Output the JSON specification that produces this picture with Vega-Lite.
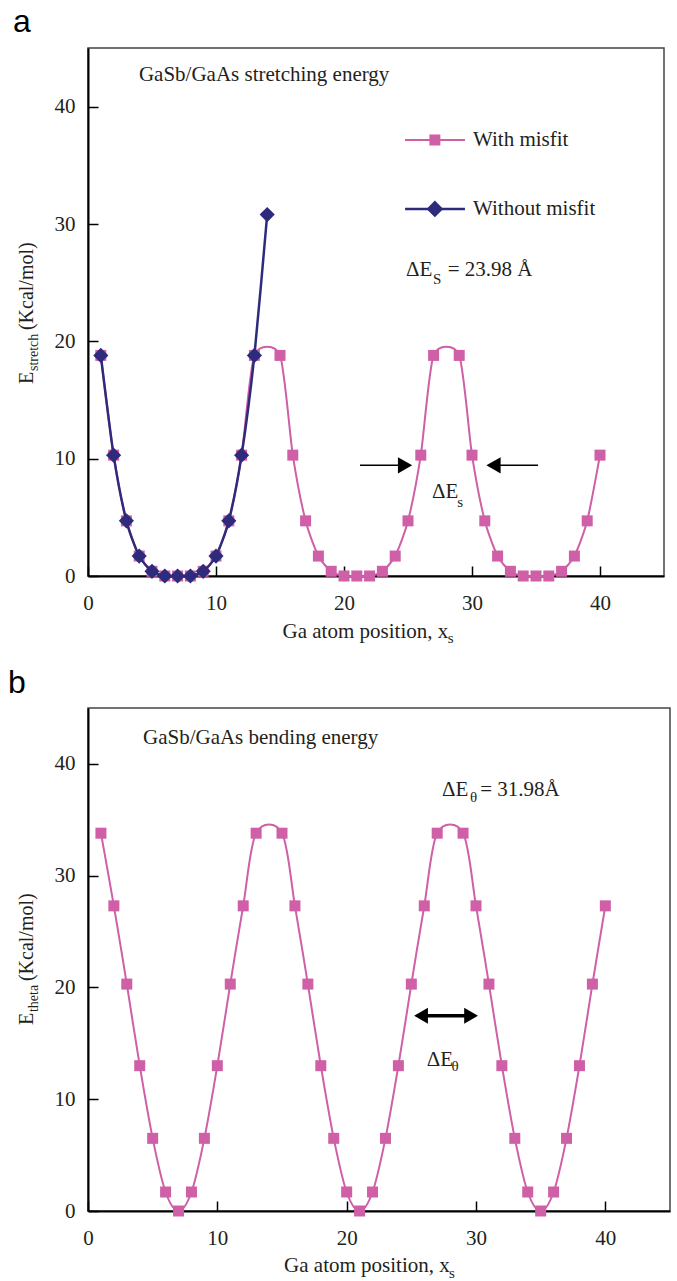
{
  "$schema": "https://vega.github.io/schema/vega-lite/v6.json",
  "background": "white",
  "padding": {"left": 7, "top": 5, "right": 5, "bottom": 5},
  "spacing": 19,
  "datasets": {
    "a_with": [
      {"x": 1, "y": 18.8}, {"x": 2, "y": 10.3}, {"x": 3, "y": 4.7}, {"x": 4, "y": 1.7}, {"x": 5, "y": 0.4},
      {"x": 6, "y": 0}, {"x": 7, "y": 0}, {"x": 8, "y": 0}, {"x": 9, "y": 0.4}, {"x": 10, "y": 1.7},
      {"x": 11, "y": 4.7}, {"x": 12, "y": 10.3}, {"x": 13, "y": 18.8}, {"x": 15, "y": 18.8}, {"x": 16, "y": 10.3},
      {"x": 17, "y": 4.7}, {"x": 18, "y": 1.7}, {"x": 19, "y": 0.4}, {"x": 20, "y": 0}, {"x": 21, "y": 0},
      {"x": 22, "y": 0}, {"x": 23, "y": 0.4}, {"x": 24, "y": 1.7}, {"x": 25, "y": 4.7}, {"x": 26, "y": 10.3},
      {"x": 27, "y": 18.8}, {"x": 29, "y": 18.8}, {"x": 30, "y": 10.3}, {"x": 31, "y": 4.7}, {"x": 32, "y": 1.7},
      {"x": 33, "y": 0.4}, {"x": 34, "y": 0}, {"x": 35, "y": 0}, {"x": 36, "y": 0}, {"x": 37, "y": 0.4},
      {"x": 38, "y": 1.7}, {"x": 39, "y": 4.7}, {"x": 40, "y": 10.3}
    ],
    "a_without": [
      {"x": 1, "y": 18.8}, {"x": 2, "y": 10.3}, {"x": 3, "y": 4.7}, {"x": 4, "y": 1.7}, {"x": 5, "y": 0.4},
      {"x": 6, "y": 0}, {"x": 7, "y": 0}, {"x": 8, "y": 0}, {"x": 9, "y": 0.4}, {"x": 10, "y": 1.7},
      {"x": 11, "y": 4.7}, {"x": 12, "y": 10.3}, {"x": 13, "y": 18.8}, {"x": 14, "y": 30.8}
    ],
    "b_with": [
      {"x": 1, "y": 33.8}, {"x": 2, "y": 27.3}, {"x": 3, "y": 20.3}, {"x": 4, "y": 13.0}, {"x": 5, "y": 6.5},
      {"x": 6, "y": 1.7}, {"x": 7, "y": 0}, {"x": 8, "y": 1.7}, {"x": 9, "y": 6.5}, {"x": 10, "y": 13.0},
      {"x": 11, "y": 20.3}, {"x": 12, "y": 27.3}, {"x": 13, "y": 33.8}, {"x": 15, "y": 33.8}, {"x": 16, "y": 27.3},
      {"x": 17, "y": 20.3}, {"x": 18, "y": 13.0}, {"x": 19, "y": 6.5}, {"x": 20, "y": 1.7}, {"x": 21, "y": 0},
      {"x": 22, "y": 1.7}, {"x": 23, "y": 6.5}, {"x": 24, "y": 13.0}, {"x": 25, "y": 20.3}, {"x": 26, "y": 27.3},
      {"x": 27, "y": 33.8}, {"x": 29, "y": 33.8}, {"x": 30, "y": 27.3}, {"x": 31, "y": 20.3}, {"x": 32, "y": 13.0},
      {"x": 33, "y": 6.5}, {"x": 34, "y": 1.7}, {"x": 35, "y": 0}, {"x": 36, "y": 1.7}, {"x": 37, "y": 6.5},
      {"x": 38, "y": 13.0}, {"x": 39, "y": 20.3}, {"x": 40, "y": 27.3}
    ]
  },
  "vconcat": [
    {
      "width": 576,
      "height": 528,
      "encoding": {
        "x": {"field": "x", "type": "quantitative", "scale": {"domain": [0, 45], "nice": false, "zero": false},
              "axis": {"values": [0, 10, 20, 30, 40], "title": null}},
        "y": {"field": "y", "type": "quantitative", "scale": {"domain": [0, 45], "nice": false, "zero": false},
              "axis": {"values": [0, 10, 20, 30, 40], "title": null}}
      },
      "layer": [
        {"data": {"name": "a_with"}, "mark": {"type": "line", "color": "#CF5FA6", "strokeWidth": 2, "interpolate": "cardinal", "tension": 0.3}},
        {"data": {"name": "a_with"}, "mark": {"type": "point", "shape": "square", "filled": true, "opacity": 1, "color": "#CF5FA6", "size": 121}},
        {"data": {"name": "a_without"}, "mark": {"type": "line", "color": "#2E2B7C", "strokeWidth": 2.5, "interpolate": "cardinal", "tension": 0.3}},
        {"data": {"name": "a_without"}, "mark": {"type": "point", "shape": "diamond", "filled": true, "opacity": 1, "color": "#2E2B7C", "size": 230}},
        {"data": {"values": [{"x": 24.77, "x2": 29.45, "y": 37.16}]}, "mark": {"type": "rule", "color": "#CF5FA6", "strokeWidth": 2}, "encoding": {"x2": {"field": "x2"}}},
        {"data": {"values": [{"x": 24.77, "x2": 29.45, "y": 31.28}]}, "mark": {"type": "rule", "color": "#2E2B7C", "strokeWidth": 2.5}, "encoding": {"x2": {"field": "x2"}}},
        {"data": {"values": [{"x": 27.1, "y": 37.16}]}, "mark": {"type": "point", "shape": "square", "filled": true, "opacity": 1, "color": "#CF5FA6", "size": 121}},
        {"data": {"values": [{"x": 27.1, "y": 31.28}]}, "mark": {"type": "point", "shape": "diamond", "filled": true, "opacity": 1, "color": "#2E2B7C", "size": 280}},
        {"data": {"values": [{"x": 21.25, "x2": 24.4, "y": 9.43}, {"x": 32.0, "x2": 35.16, "y": 9.43}]}, "mark": {"type": "rule", "color": "black", "strokeWidth": 1.5}, "encoding": {"x2": {"field": "x2"}}},
        {"data": {"values": [{"x": 24.77, "y": 9.43, "dir": "right"}, {"x": 31.68, "y": 9.43, "dir": "left"}]},
         "mark": {"type": "point", "filled": true, "opacity": 1, "color": "black", "size": 270},
         "encoding": {"shape": {"field": "dir", "type": "nominal", "scale": {"domain": ["right", "left"], "range": ["triangle-right", "triangle-left"]}, "legend": null}}},
        {"data": {"values": [
          {"x": 3.98, "y": 42.7, "label": "GaSb/GaAs stretching energy"},
          {"x": 30.08, "y": 37.16, "label": "With misfit"},
          {"x": 30.08, "y": 31.28, "label": "Without misfit"},
          {"x": 24.84, "y": 26.08, "label": "ΔE"},
          {"x": 28.1, "y": 26.08, "label": "= 23.98 Å"},
          {"x": 26.88, "y": 7.16, "label": "ΔE"}
        ]}, "mark": {"type": "text", "align": "left", "baseline": "middle", "fontSize": 21}, "encoding": {"text": {"field": "label"}}},
        {"data": {"values": [
          {"x": 26.95, "y": 25.3, "label": "S"},
          {"x": 28.85, "y": 6.3, "label": "s"}
        ]}, "mark": {"type": "text", "align": "left", "baseline": "middle", "fontSize": 15}, "encoding": {"text": {"field": "label"}}},
        {"data": {"values": [
          {"x": 15.2, "y": -5.28, "label": "Ga atom position, x"}
        ]}, "mark": {"type": "text", "align": "left", "baseline": "alphabetic", "fontSize": 21}, "encoding": {"text": {"field": "label"}}},
        {"data": {"values": [
          {"x": 28.1, "y": -5.71, "label": "s"}
        ]}, "mark": {"type": "text", "align": "left", "baseline": "alphabetic", "fontSize": 15}, "encoding": {"text": {"field": "label"}}},
        {"data": {"values": [
          {"x": -4.3, "y": 16.36, "label": "E"},
          {"x": -4.3, "y": 20.96, "label": "(Kcal/mol)"}
        ]}, "mark": {"type": "text", "align": "left", "baseline": "alphabetic", "fontSize": 20, "angle": 270}, "encoding": {"text": {"field": "label"}}},
        {"data": {"values": [
          {"x": -3.91, "y": 17.47, "label": "stretch"}
        ]}, "mark": {"type": "text", "align": "left", "baseline": "alphabetic", "fontSize": 14, "angle": 270}, "encoding": {"text": {"field": "label"}}},
        {"data": {"values": [
          {"x": -5.86, "y": 46.36, "label": "a"}
        ]}, "mark": {"type": "text", "align": "left", "baseline": "alphabetic", "fontSize": 32, "font": "Liberation Sans", "color": "black"}, "encoding": {"text": {"field": "label"}}}
      ]
    },
    {
      "width": 582,
      "height": 503,
      "encoding": {
        "x": {"field": "x", "type": "quantitative", "scale": {"domain": [0, 45], "nice": false, "zero": false},
              "axis": {"values": [0, 10, 20, 30, 40], "title": null}},
        "y": {"field": "y", "type": "quantitative", "scale": {"domain": [0, 45], "nice": false, "zero": false},
              "axis": {"values": [0, 10, 20, 30, 40], "title": null}}
      },
      "layer": [
        {"data": {"name": "b_with"}, "mark": {"type": "line", "color": "#CF5FA6", "strokeWidth": 2, "interpolate": "cardinal", "tension": 0.05}},
        {"data": {"name": "b_with"}, "mark": {"type": "point", "shape": "square", "filled": true, "opacity": 1, "color": "#CF5FA6", "size": 121}},
        {"data": {"values": [{"x": 26.0, "x2": 29.4, "y": 17.47}]}, "mark": {"type": "rule", "color": "black", "strokeWidth": 3.5}, "encoding": {"x2": {"field": "x2"}}},
        {"data": {"values": [{"x": 25.75, "y": 17.47, "dir": "left"}, {"x": 29.62, "y": 17.47, "dir": "right"}]},
         "mark": {"type": "point", "filled": true, "opacity": 1, "color": "black", "size": 256},
         "encoding": {"shape": {"field": "dir", "type": "nominal", "scale": {"domain": ["right", "left"], "range": ["triangle-right", "triangle-left"]}, "legend": null}}},
        {"data": {"values": [
          {"x": 4.25, "y": 42.3, "label": "GaSb/GaAs bending energy"},
          {"x": 27.38, "y": 37.66, "label": "ΔE"},
          {"x": 30.32, "y": 37.66, "label": "= 31.98Å"},
          {"x": 26.2, "y": 13.5, "label": "ΔE"}
        ]}, "mark": {"type": "text", "align": "left", "baseline": "middle", "fontSize": 21}, "encoding": {"text": {"field": "label"}}},
        {"data": {"values": [
          {"x": 29.54, "y": 37.03, "label": "θ"},
          {"x": 28.1, "y": 13.0, "label": "θ"}
        ]}, "mark": {"type": "text", "align": "left", "baseline": "middle", "fontSize": 15}, "encoding": {"text": {"field": "label"}}},
        {"data": {"values": [
          {"x": 15.16, "y": -5.46, "label": "Ga atom position, x"}
        ]}, "mark": {"type": "text", "align": "left", "baseline": "alphabetic", "fontSize": 21}, "encoding": {"text": {"field": "label"}}},
        {"data": {"values": [
          {"x": 27.92, "y": -6.0, "label": "s"}
        ]}, "mark": {"type": "text", "align": "left", "baseline": "alphabetic", "fontSize": 15}, "encoding": {"text": {"field": "label"}}},
        {"data": {"values": [
          {"x": -4.25, "y": 16.64, "label": "E"},
          {"x": -4.25, "y": 20.57, "label": "(Kcal/mol)"}
        ]}, "mark": {"type": "text", "align": "left", "baseline": "alphabetic", "fontSize": 20, "angle": 270}, "encoding": {"text": {"field": "label"}}},
        {"data": {"values": [
          {"x": -3.87, "y": 17.8, "label": "theta"}
        ]}, "mark": {"type": "text", "align": "left", "baseline": "alphabetic", "fontSize": 14, "angle": 270}, "encoding": {"text": {"field": "label"}}},
        {"data": {"values": [
          {"x": -6.19, "y": 46.33, "label": "b"}
        ]}, "mark": {"type": "text", "align": "left", "baseline": "alphabetic", "fontSize": 32, "font": "Liberation Sans", "color": "black"}, "encoding": {"text": {"field": "label"}}}
      ]
    }
  ],
  "config": {
    "view": {"stroke": "#444", "strokeWidth": 1.5},
    "axis": {
      "labelFont": "Liberation Serif", "labelFontSize": 21, "labelColor": "#231F20",
      "domainColor": "black", "domainWidth": 2, "tickColor": "black", "tickWidth": 1.5,
      "tickSize": -10, "grid": false
    },
    "axisX": {"labelPadding": 26, "labelFlush": false},
    "axisY": {"labelPadding": 23},
    "text": {"font": "Liberation Serif", "fontSize": 21, "color": "#231F20"}
  }
}
